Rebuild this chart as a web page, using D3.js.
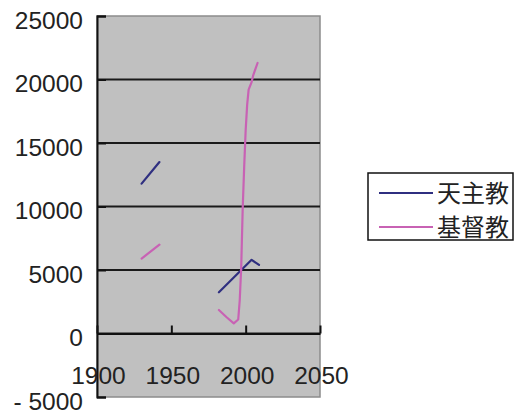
<!DOCTYPE html>
<html><head><meta charset="utf-8">
<script src="https://cdnjs.cloudflare.com/ajax/libs/d3/7.8.5/d3.min.js"></script>
<style>body{margin:0;background:#fff}svg{display:block}</style>
</head><body>
<svg id="c" width="517" height="411"></svg>
<script>
// Data (null marks a gap in the series)
const catholicYears  = [1930, 1942, null, 1982, 2004, 2009];
const catholicValues = [11800, 13500, null, 3250, 5800, 5400];
const protestantYears  = [1930, 1942, null, 1982, 1987, 1992, 1995, 1996, 1997, 1998, 1999, 2000, 2001, 2002, 2004, 2005, 2008];
const protestantValues = [5900, 7000, null, 1850, 1300, 800, 1100, 2600, 5200, 9800, 13100, 16000, 18000, 19200, 19800, 20300, 21300];
const seriesNames = ["天主教", "基督教"];
const seriesColors = ["#2f2f80", "#c862b4"];
const xTicks = [1900, 1950, 2000, 2050];
const yTicks = [-5000, 0, 5000, 10000, 15000, 20000, 25000];
const yTickLabels = ["- 5000", "0", "5000", "10000", "15000", "20000", "25000"];

const svg = d3.select("#c");
const L = 97, R = 320, T = 16, B = 397;
const x = d3.scaleLinear().domain([1900, 2050]).range([L, R]);
const y = d3.scaleLinear().domain([-5000, 25000]).range([B, T]);

// plot area
svg.append("rect").attr("x", L).attr("y", T).attr("width", R - L).attr("height", B - T)
  .attr("fill", "#c0c0c0").attr("stroke", "#8c8c8c").attr("stroke-width", 1.5);

// gridlines
svg.append("g").selectAll("line").data(yTicks.filter(v => v > -5000 && v < 25000)).join("line")
  .attr("x1", L).attr("x2", R).attr("y1", d => y(d)).attr("y2", d => y(d))
  .attr("stroke", "#1a1a1a").attr("stroke-width", 2);

// y axis
const yAxis = d3.axisRight(y).tickValues(yTicks).tickSize(9).tickFormat("");
const gy = svg.append("g").attr("transform", `translate(${L},0)`).call(yAxis);
gy.select(".domain").attr("stroke", "#111").attr("stroke-width", 2);
gy.selectAll(".tick line").attr("stroke", "#111").attr("stroke-width", 2);

// x axis at y = 0
const xAxis = d3.axisTop(x).tickValues(xTicks).tickSize(8).tickFormat("").tickSizeOuter(0);
const gx = svg.append("g").attr("transform", `translate(0,${y(0)})`).call(xAxis);
gx.select(".domain").attr("stroke", "#111").attr("stroke-width", 2);
gx.selectAll(".tick line").attr("stroke", "#111").attr("stroke-width", 2);

// y labels
svg.append("g").selectAll("text").data(yTicks).join("text")
  .attr("x", 83).attr("y", d => y(d) + 4).attr("dy", "0.36em")
  .attr("text-anchor", "end").attr("font-family", "Liberation Sans, Arial, sans-serif")
  .attr("font-size", 24.5).attr("fill", "#222")
  .text((d, i) => yTickLabels[i]);

// x labels
svg.append("g").selectAll("text").data(xTicks).join("text")
  .attr("x", d => x(d) + 1.5).attr("y", 384)
  .attr("text-anchor", "middle").attr("font-family", "Liberation Sans, Arial, sans-serif")
  .attr("font-size", 24.5).attr("fill", "#222")
  .text(d => d);

// series
const line = d3.line().defined(d => d[0] !== null && d[1] !== null).x(d => x(d[0])).y(d => y(d[1]));
const series = [
  d3.zip(catholicYears, catholicValues),
  d3.zip(protestantYears, protestantValues)
];
svg.append("g").selectAll("path").data(series).join("path")
  .attr("d", line).attr("fill", "none")
  .attr("stroke", (d, i) => seriesColors[i]).attr("stroke-width", 2.2)
  .attr("stroke-linejoin", "round").attr("stroke-linecap", "round");

// legend
const lg = svg.append("g");
lg.append("rect").attr("x", 368).attr("y", 173).attr("width", 145).attr("height", 67)
  .attr("fill", "#fff").attr("stroke", "#111").attr("stroke-width", 1.5);
seriesNames.forEach((name, i) => {
  const cy = 193 + i * 34;
  lg.append("line").attr("x1", 379).attr("x2", 433).attr("y1", cy).attr("y2", cy)
    .attr("stroke", seriesColors[i]).attr("stroke-width", 2.2);
  lg.append("text").attr("x", 437).attr("y", cy).attr("dy", "0.36em")
    .attr("font-family", "Noto Sans CJK SC, sans-serif").attr("font-size", 24)
    .attr("fill", "#222").text(name);
});
</script>
</body></html>
